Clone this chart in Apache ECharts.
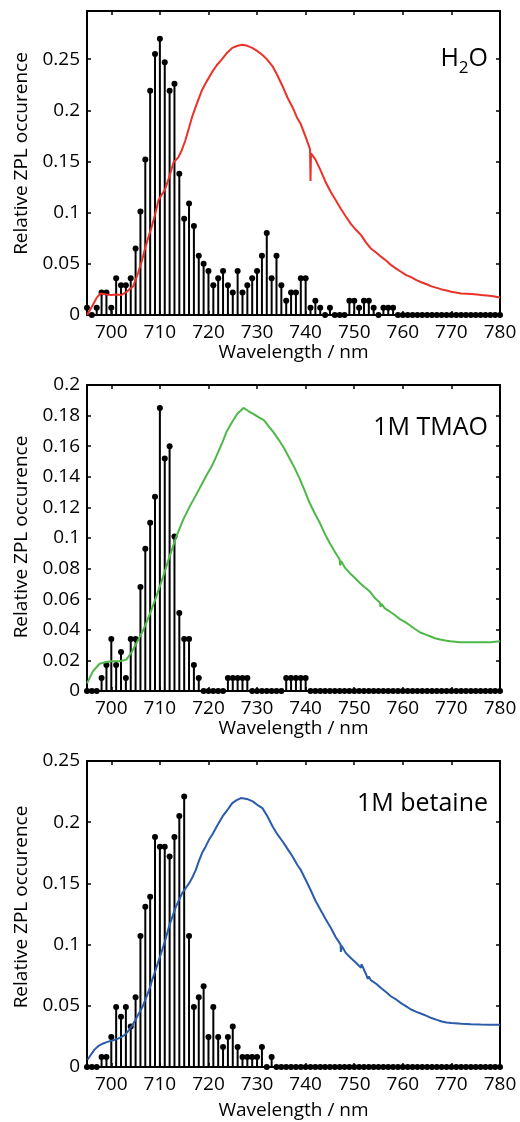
<!DOCTYPE html>
<html>
<head>
<meta charset="utf-8">
<script src="https://cdn.jsdelivr.net/npm/echarts@6/dist/echarts.min.js"></script>
<style>
html,body{margin:0;padding:0;background:#fff;}
#chart{width:520px;height:1122px;}
</style>
</head>
<body>
<div id="chart"></div>
<script>
// ---------- DATA ----------
const wavelengths = [695,696,697,698,699,700,701,702,703,704,705,706,707,708,709,710,711,712,713,714,715,716,717,718,719,720,721,722,723,724,725,726,727,728,729,730,731,732,733,734,735,736,737,738,739,740,741,742,743,744,745,746,747,748,749,750,751,752,753,754,755,756,757,758,759,760,761,762,763,764,765,766,767,768,769,770,771,772,773,774,775,776,777,778,779,780];

const stemsH2O = [0.007,0,0.007,0.022,0.022,0.007,0.036,0.029,0.029,0.036,0.065,0.101,0.152,0.219,0.255,0.270,0.247,0.219,0.226,0.138,0.094,0.109,0.087,0.058,0.050,0.043,0.029,0.036,0.043,0.029,0.022,0.043,0.022,0.029,0.036,0.043,0.058,0.080,0.036,0.058,0.029,0.014,0.022,0.022,0.036,0.036,0.007,0.014,0.007,0,0.007,0,0,0,0.014,0.014,0.007,0.014,0.014,0.007,0,0.007,0.007,0.007,0,0,0,0,0,0,0,0,0,0,0,0,0,0,0,0,0,0,0,0,0,0];

const stemsTMAO = [0,0,0,0.0085,0.017,0.034,0.017,0.0255,0.0085,0.034,0.034,0.068,0.093,0.110,0.127,0.185,0.152,0.160,0.101,0.051,0.034,0.034,0.017,0.0085,0,0,0,0,0,0.0085,0.0085,0.0085,0.0085,0.0085,0,0,0,0,0,0,0,0.0085,0.0085,0.0085,0.0085,0.0085,0,0,0,0,0,0,0,0,0,0,0,0,0,0,0,0,0,0,0,0,0,0,0,0,0,0,0,0,0,0,0,0,0,0,0,0,0,0,0,0];

const stemsBetaine = [0,0,0,0.0082,0.0082,0.0246,0.049,0.041,0.049,0.033,0.057,0.107,0.131,0.139,0.188,0.180,0.180,0.172,0.188,0.205,0.221,0.107,0.049,0.057,0.066,0.0246,0.049,0.0246,0.0164,0.0246,0.033,0.0164,0.0082,0.0082,0.0082,0.0082,0.0164,0,0.0082,0,0,0,0,0,0,0,0,0,0,0,0,0,0,0,0,0,0,0,0,0,0,0,0,0,0,0,0,0,0,0,0,0,0,0,0,0,0,0,0,0,0,0,0,0,0,0];

const spectrumH2O = [[695,0],[696,0.008],[697,0.017],[697.8,0.021],[699,0.020],[700,0.0195],[701,0.020],[702,0.0195],[703,0.022],[704,0.026],[704.5,0.028],[705.5,0.041],[706.3,0.053],[707,0.066],[707.7,0.077],[708.3,0.086],[709,0.098],[709.7,0.112],[710.3,0.117],[711,0.122],[711.8,0.133],[712.8,0.149],[713.8,0.154],[714.5,0.161],[715.2,0.170],[716,0.183],[716.6,0.193],[717.5,0.205],[718.6,0.219],[719.6,0.228],[720.7,0.237],[721.7,0.244],[722.8,0.250],[723.8,0.256],[724.9,0.261],[726,0.263],[727,0.264],[728,0.263],[729,0.261],[730,0.258],[731,0.2545],[732,0.250],[733.2,0.243],[734.2,0.234],[735.2,0.224],[736.3,0.212],[737.3,0.203],[738.2,0.193],[739,0.1865],[740,0.174],[740.9,0.162],[741,0.131],[741.1,0.158],[742,0.152],[743.1,0.141],[744.1,0.130],[745.2,0.120],[746.2,0.112],[747.2,0.104],[748.3,0.096],[749.3,0.089],[750.4,0.083],[751.4,0.078],[752.4,0.071],[753.4,0.065],[754.5,0.061],[755.5,0.057],[756.6,0.053],[757.6,0.0487],[758.7,0.045],[759.7,0.042],[760.7,0.039],[761.7,0.037],[762.8,0.034],[763.8,0.032],[764.9,0.030],[765.9,0.028],[767,0.0265],[768,0.025],[769,0.024],[770,0.0227],[772,0.021],[774.2,0.0205],[776.2,0.0195],[778.3,0.0185],[780,0.0172]];

const spectrumTMAO = [[695,0.005],[696.2,0.0128],[697.6,0.0178],[699,0.019],[700,0.0194],[701.7,0.0194],[703.1,0.0205],[704.1,0.0249],[705.2,0.0314],[706.6,0.040],[707.9,0.050],[709.3,0.062],[710.7,0.075],[712,0.088],[713.4,0.101],[714.8,0.112],[716.2,0.121],[717.6,0.129],[719.6,0.141],[720.7,0.147],[721.7,0.154],[722.8,0.162],[723.8,0.170],[724.9,0.176],[725.9,0.181],[727.2,0.185],[728.2,0.183],[729.3,0.181],[730.3,0.179],[731.4,0.177],[732.4,0.173],[733.4,0.169],[734.5,0.164],[735.5,0.159],[736.7,0.152],[737.7,0.146],[738.8,0.1385],[739.8,0.131],[740.8,0.123],[741.9,0.116],[742.9,0.110],[743.9,0.103],[744.9,0.097],[746,0.091],[747,0.086],[747.1,0.082],[747.3,0.085],[748,0.081],[749.1,0.077],[750.1,0.074],[751.1,0.0708],[752.1,0.068],[753.2,0.065],[754.2,0.061],[755.3,0.0577],[755.4,0.055],[755.6,0.057],[756.3,0.054],[757.3,0.052],[758.4,0.0495],[759.4,0.047],[760.5,0.045],[761.5,0.0428],[762.5,0.0405],[763.5,0.0384],[764.6,0.037],[765.6,0.0358],[766.6,0.0345],[767.7,0.0336],[768.7,0.033],[769.8,0.0325],[771.8,0.0318],[773.9,0.0318],[776,0.0318],[778,0.0319],[780,0.0325]];

const spectrumBetaine = [[695.1,0.0059],[695.8,0.010],[696.5,0.014],[697.3,0.017],[698.2,0.019],[699.2,0.0205],[700.2,0.0217],[701.3,0.023],[702.3,0.025],[703,0.027],[703.6,0.030],[704.3,0.034],[705,0.0386],[705.7,0.044],[706.4,0.049],[707.1,0.056],[707.8,0.063],[708.4,0.071],[709.1,0.079],[709.8,0.0875],[710.5,0.096],[711.2,0.105],[711.9,0.115],[712.6,0.123],[713.3,0.131],[714,0.137],[714.6,0.142],[715.3,0.146],[716,0.150],[716.7,0.155],[717.4,0.161],[718,0.168],[718.7,0.175],[719.4,0.180],[720.1,0.1856],[720.8,0.190],[721.5,0.195],[722.2,0.200],[722.9,0.2047],[723.9,0.210],[724.9,0.2156],[725.8,0.218],[726.7,0.2197],[727.9,0.219],[729.1,0.217],[730.1,0.214],[731.1,0.2115],[732.1,0.205],[733.2,0.1965],[734.2,0.190],[735.3,0.184],[736.3,0.178],[737.3,0.172],[738.3,0.165],[739,0.161],[740,0.153],[741,0.1448],[742,0.136],[743.1,0.128],[744.1,0.121],[745.2,0.1135],[746.2,0.106],[747.2,0.100],[747.25,0.094],[747.4,0.099],[748.3,0.093],[749.3,0.089],[750.4,0.085],[751.4,0.081],[751.5,0.084],[752.4,0.076],[752.8,0.072],[753,0.074],[753.4,0.071],[754.5,0.068],[755.5,0.0645],[756.6,0.061],[757.6,0.0576],[758.7,0.055],[759.7,0.052],[760.7,0.0495],[761.7,0.047],[762.8,0.045],[763.8,0.0435],[764.9,0.0418],[765.9,0.040],[767,0.0385],[768,0.0372],[769,0.0363],[770,0.0359],[772.1,0.0353],[774,0.035],[776,0.0347],[778,0.0345],[780,0.0345]];

const xTicks = [700,710,720,730,740,750,760,770,780];
const yTicksH2O = [0,0.05,0.1,0.15,0.2,0.25];
const yTicksTMAO = [0,0.02,0.04,0.06,0.08,0.1,0.12,0.14,0.16,0.18,0.2];
const yTicksBetaine = [0,0.05,0.1,0.15,0.2,0.25];

const xName = 'Wavelength / nm';
const yName = 'Relative ZPL occurence';
const panelLabels = ['{a|H}{s|2}{a|O}', '1M TMAO', '1M betaine'];

// ---------- CHART ----------
const FONT = '"Open Sans", "Noto Sans", sans-serif';
const panels = [
  {top: 11, height: 304, yMax: 0.297, yTicks: yTicksH2O, stems: stemsH2O, curve: spectrumH2O, color: '#ec3128', labelTop: 36, namePad: 19, nameGap: 28},
  {top: 385, height: 306, yMax: 0.2, yTicks: yTicksTMAO, stems: stemsTMAO, curve: spectrumTMAO, color: '#4db848', labelTop: 410, namePad: 2, nameGap: 28},
  {top: 761, height: 306, yMax: 0.25, yTicks: yTicksBetaine, stems: stemsBetaine, curve: spectrumBetaine, color: '#2a5caa', labelTop: 786, namePad: 14, nameGap: 34}
];

const grid = [], xAxis = [], yAxis = [], series = [], title = [];
const lineStyle = {color: '#000', width: 2};
panels.forEach((p, i) => {
  grid.push({left: 87, right: 20, top: p.top, height: p.height});
  xAxis.push({
    type: 'value', gridIndex: i, min: 695, max: 780, position: 'bottom',
    axisLine: {onZero: false, lineStyle},
    axisTick: {inside: true, length: 4, customValues: xTicks, lineStyle: {color: '#000', width: 1.5}},
    axisLabel: {customValues: xTicks, margin: 8, fontSize: 19, color: '#000', fontFamily: FONT},
    splitLine: {show: false},
    name: xName, nameLocation: 'middle', nameGap: p.nameGap,
    nameTextStyle: {fontSize: 19, color: '#000', fontFamily: FONT}
  });
  xAxis.push({
    type: 'value', gridIndex: i, min: 695, max: 780, position: 'top',
    axisLine: {onZero: false, lineStyle},
    axisTick: {inside: true, length: 4, customValues: xTicks, lineStyle: {color: '#000', width: 1.5}},
    axisLabel: {show: false}, splitLine: {show: false}
  });
  yAxis.push({
    type: 'value', gridIndex: i, min: 0, max: p.yMax, position: 'left',
    axisLine: {onZero: false, lineStyle},
    axisTick: {inside: true, length: 4, customValues: p.yTicks, lineStyle: {color: '#000', width: 1.5}},
    axisLabel: {customValues: p.yTicks, margin: 7, fontSize: 19, color: '#000', fontFamily: FONT, padding: [6, 0, 0, 0]},
    splitLine: {show: false},
    name: yName, nameLocation: 'middle', nameGap: 54,
    nameTextStyle: {fontSize: 19, color: '#000', fontFamily: FONT, padding: [0, 0, 0, p.namePad]}
  });
  yAxis.push({
    type: 'value', gridIndex: i, min: 0, max: p.yMax, position: 'right',
    axisLine: {onZero: false, lineStyle},
    axisTick: {inside: true, length: 4, customValues: p.yTicks, lineStyle: {color: '#000', width: 1.5}},
    axisLabel: {show: false}, splitLine: {show: false}
  });
  const pts = wavelengths.map((w, k) => [w, p.stems[k]]);
  series.push({
    type: 'bar', xAxisIndex: 2 * i, yAxisIndex: 2 * i, data: pts,
    barWidth: 2, itemStyle: {color: '#000', opacity: 1}, z: 2, silent: true
  });
  series.push({
    type: 'scatter', xAxisIndex: 2 * i, yAxisIndex: 2 * i, data: pts,
    symbol: 'circle', symbolSize: 6, itemStyle: {color: '#000', opacity: 1}, clip: false, z: 2
  });
  series.push({
    type: 'line', xAxisIndex: 2 * i, yAxisIndex: 2 * i, data: p.curve,
    showSymbol: false, symbol: 'none', lineStyle: {color: p.color, width: 2}, z: 3
  });
  title.push({
    text: panelLabels[i], right: 27, top: p.labelTop,
    textStyle: {
      fontSize: 25, fontWeight: 'normal', color: '#000', fontFamily: FONT,
      rich: {
        a: {fontSize: 25, color: '#000', fontFamily: FONT, lineHeight: 36, verticalAlign: 'middle'},
        s: {fontSize: 17, color: '#000', fontFamily: FONT, lineHeight: 36, verticalAlign: 'bottom'}
      }
    }
  });
});

const chart = echarts.init(document.getElementById('chart'), null, {renderer: 'canvas'});
chart.setOption({animation: false, backgroundColor: '#fff', title, grid, xAxis, yAxis, series});
</script>
</body>
</html>
